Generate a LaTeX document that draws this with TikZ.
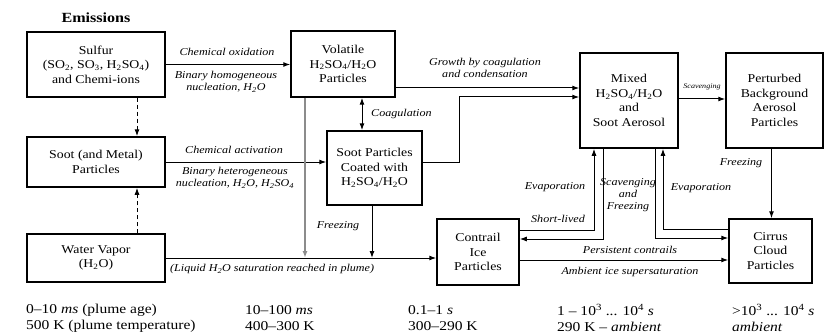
\documentclass[tikz,border=0pt]{standalone}
\usepackage{fontspec}
\setmainfont{Liberation Serif}[
  FakeStretch=1.15,
  UprightFont=*,
  ItalicFont=* Italic,
  BoldFont=* Bold,
  BoldItalicFont=* Bold Italic]
\usetikzlibrary{arrows.meta}

\newcommand{\lowr}[1]{\textsubscript{#1}}
\newcommand{\highr}[1]{\textsuperscript{#1}}

\tikzset{
  >={Latex[length=7pt,width=5pt]},
  box/.style={draw, line width=1.5pt, align=center, inner sep=1pt,
    font=\fontsize{12}{14.5}\selectfont},
  flow/.style={line width=1pt, ->},
  twoway/.style={line width=1pt, <->},
  pale/.style={draw=black!45, line width=1.6pt},
  tag/.style={font=\fontsize{10.5}{12}\selectfont\itshape, align=center, inner sep=0pt},
  note/.style={font=\fontsize{13.5}{16}\selectfont, align=left, anchor=west, inner sep=0pt},
}

\begin{document}
\begin{tikzpicture}[x=1pt,y=-1pt]

        \useasboundingbox (0,0) rectangle (829,334);

        \node[font=\fontsize{14}{16}\selectfont\bfseries] (emis) at (96,18) {Emissions};

        \node[box, minimum width=138pt, minimum height=65pt] (sulfur) at (96,64.5)
            {Sulfur\\(SO\lowr{2}, SO\lowr{3}, H\lowr{2}SO\lowr{4})\\and Chemi-ions};
        \node[box, minimum width=138pt, minimum height=50pt] (soot) at (96,162)
            {Soot (and Metal)\\Particles};
        \node[box, minimum width=138pt, minimum height=48pt] (water) at (96,258)
            {Water Vapor\\(H\lowr{2}O)};
        \node[box, minimum width=104pt, minimum height=66pt] (vol) at (343,64)
            {Volatile\\H\lowr{2}SO\lowr{4}/H\lowr{2}O\\Particles};
        \node[box, minimum width=95pt, minimum height=74pt] (coated) at (374.5,168)
            {Soot Particles\\Coated with\\H\lowr{2}SO\lowr{4}/H\lowr{2}O};
        \node[box, minimum width=82pt, minimum height=66pt] (contrail) at (478,252)
            {Contrail\\Ice\\Particles};
        \node[box, minimum width=98pt, minimum height=95pt] (mixed) at (629,100.5)
            {Mixed\\H\lowr{2}SO\lowr{4}/H\lowr{2}O\\and\\Soot Aerosol};
        \node[box, minimum width=97pt, minimum height=95pt] (pert) at (774.5,100.5)
            {Perturbed\\Background\\Aerosol\\Particles};
        \node[box, minimum width=83pt, minimum height=64pt] (cirrus) at (770.5,251)
            {Cirrus\\Cloud\\Particles};

        \draw[flow] (sulfur.east) -- (sulfur.east -| vol.west);
        \node[tag] (oxid) at (227,52) {Chemical oxidation};
        \node[tag] (homnuc) at (226,82) {Binary homogeneous\\nucleation, H\lowr{2}O};

        \draw[flow, dash pattern=on 4pt off 3pt] ([xshift=41pt]sulfur.south) -- ([xshift=41pt]sulfur.south |- soot.north);
        \draw[flow, dash pattern=on 4pt off 3pt] ([xshift=41pt]water.north) -- ([xshift=41pt]water.north |- soot.south);

        \draw[flow] (soot.east) -- (soot.east -| coated.west);
        \node[tag] (activ) at (234,150) {Chemical activation};
        \node[tag] (hetnuc) at (235,178) {Binary heterogeneous\\nucleation, H\lowr{2}O, H\lowr{2}SO\lowr{4}};

        \draw[twoway] ([xshift=19pt]vol.south) -- ([xshift=19pt]vol.south |- coated.north);
        \node[tag, anchor=west] (coag) at (371,114) {Coagulation};

        \draw[flow] ([yshift=-24pt]vol.east) -- ([yshift=-24pt]vol.east -| mixed.west);
        \node[tag] (growth) at (485,68) {Growth by coagulation\\and condensation};
        \draw[flow] ([yshift=6pt]coated.east) -- ++(37,0) |- ([yshift=3.5pt]mixed.west);

        \draw[flow] ([yshift=1.5pt]mixed.east) -- ([yshift=1.5pt]mixed.east -| pert.west);
        \node[tag, font=\fontsize{7}{8}\selectfont\itshape] (scav) at (702,87) {Scavenging};

        \draw[flow] ([xshift=-3pt]pert.south) -- ([xshift=-3pt]pert.south |- cirrus.north);
        \node[tag] (frz1) at (741,163) {Freezing};

        \draw[flow, pale] ([xshift=-38pt]vol.south) -- ([xshift=-38pt]vol.south |- water.east);
        \draw[flow] ([xshift=-2.5pt]coated.south) -- ([xshift=-2.5pt]coated.south |- water.east);
        \node[tag] (frz2) at (338,226) {Freezing};

        \draw[flow] (water.east) -- (water.east -| contrail.west);
        \node[tag, anchor=west] (liquid) at (170,269) {(Liquid H\lowr{2}O saturation reached in plume)};

        \draw[flow] ([yshift=22pt]contrail.east) -| ([xshift=-35pt]mixed.south);
        \node[tag] (evap1) at (555,187) {Evaporation};
        \node[tag] (short) at (558,219) {Short-lived};
        \draw[flow] ([xshift=-26pt]mixed.south) |- ([yshift=13pt]contrail.east);
        \node[tag] (scavfrz) at (628,195) {Scavenging\\and\\Freezing};

        \draw[flow] ([xshift=26pt]mixed.south) |- ([yshift=13pt]cirrus.west);
        \draw[flow] ([yshift=22pt]cirrus.west) -| ([xshift=34pt]mixed.south);
        \node[tag] (evap2) at (701,188) {Evaporation};

        \draw[flow] ([yshift=-8pt]contrail.east) -- ([yshift=-8pt]contrail.east -| cirrus.west);
        \node[tag] (persist) at (630,250) {Persistent contrails};
        \node[tag] (supsat) at (630,272) {Ambient ice supersaturation};

        \node[note] (t1) at (26,318) {0--10 \textit{ms} (plume age)\\500 K (plume temperature)};
        \node[note] (t2) at (245,318) {10--100 \textit{ms}\\400--300 K};
        \node[note] (t3) at (408,318) {0.1--1 \textit{s}\\300--290 K};
        \node[note] (t4) at (557,318) {1 -- 10\highr{3} ... 10\highr{4} \textit{s}\\290 K -- \textit{ambient}};
        \node[note] (t5) at (732,318) {>10\highr{3} ... 10\highr{4} \textit{s}\\\textit{ambient}};

    \end{tikzpicture}
\end{document}
